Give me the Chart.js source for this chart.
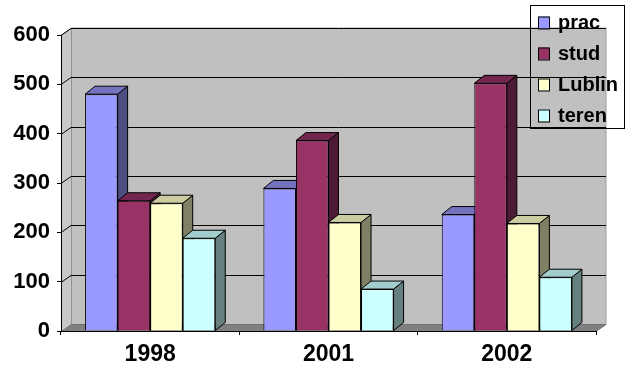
<!DOCTYPE html>
<html>
<head>
  <title>prac / stud / Lublin / teren</title>
  <script src="https://cdn.jsdelivr.net/npm/chart.js"></script>
  <style>
    body {
      margin: 0;
      background-color: #ffffff;
    }

    .chart-container {
      width: 633px;
      height: 377px;
    }
  </style>
</head>
<body>
  <div class="chart-container">
    <canvas id="barChart" width="633" height="377"></canvas>
  </div>

  <script>
    // data
    const years = ['1998', '2001', '2002'];
    const seriesNames = ['prac', 'stud', 'Lublin', 'teren'];
    const prac = [480, 289, 236];
    const stud = [264, 386, 502];
    const lublin = [259, 220, 218];
    const teren = [188, 85, 109];
    const yTicks = [0, 100, 200, 300, 400, 500, 600];

    // colours: front, top, side
    const fronts = ['#9999ff', '#993366', '#ffffcc', '#ccffff'];
    const tops = ['#7373c0', '#73264d', '#cccca3', '#a3cccc'];
    const sides = ['#4d4d80', '#4d1a33', '#808066', '#668080'];

    const WALL = { dx: 10, dy: -7 };  // depth of the walls
    const BAR = { dx: 10, dy: -8 };   // depth of each column

    function poly(ctx, pts, fill, stroke) {
      ctx.beginPath();
      ctx.moveTo(pts[0][0], pts[0][1]);
      for (let i = 1; i < pts.length; i++) ctx.lineTo(pts[i][0], pts[i][1]);
      ctx.closePath();
      if (fill) { ctx.fillStyle = fill; ctx.fill(); }
      if (stroke) { ctx.strokeStyle = stroke; ctx.lineWidth = 1; ctx.stroke(); }
    }

    // back wall, side wall and floor
    const wallsPlugin = {
      id: 'walls',
      beforeDraw(chart) {
        const ctx = chart.ctx;
        const a = chart.chartArea;
        const L = a.left + 0.5, R = a.right, T = a.top, B = a.bottom + 0.5;
        ctx.save();
        poly(ctx, [[L + WALL.dx, T + WALL.dy], [R + WALL.dx, T + WALL.dy],
                   [R + WALL.dx, B + WALL.dy], [L + WALL.dx, B + WALL.dy]], '#c0c0c0', '#a0a0a0');
        poly(ctx, [[L, T], [L + WALL.dx, T + WALL.dy], [L + WALL.dx, B + WALL.dy], [L, B]], '#c8c8c8', '#909090');
        poly(ctx, [[L, B], [L + WALL.dx, B + WALL.dy], [R + WALL.dx, B + WALL.dy], [R, B]], '#808080', '#707070');
        ctx.restore();
      },
      beforeDatasetsDraw(chart) {
        const ctx = chart.ctx;
        const a = chart.chartArea;
        const y = chart.scales.y;
        ctx.save();
        ctx.strokeStyle = '#000';
        ctx.lineWidth = 1;
        yTicks.forEach(v => {
          if (v === 0) return;
          const py = Math.round(y.getPixelForValue(v)) + 0.5;
          ctx.beginPath();
          ctx.moveTo(a.left, py);
          ctx.lineTo(a.left + WALL.dx, py + WALL.dy);
          ctx.lineTo(a.right + WALL.dx, py + WALL.dy);
          ctx.stroke();
        });
        // top and right faces of the columns, left to right
        chart.data.datasets.forEach((ds, i) => {
          chart.getDatasetMeta(i).data.forEach(bar => {
            const p = bar.getProps(['x', 'y', 'base', 'width'], true);
            const l = p.x - p.width / 2, r = p.x + p.width / 2;
            poly(ctx, [[r, p.y], [r + BAR.dx, p.y + BAR.dy], [r + BAR.dx, p.base + BAR.dy], [r, p.base]], sides[i], '#000');
            poly(ctx, [[l, p.y], [l + BAR.dx, p.y + BAR.dy], [r + BAR.dx, p.y + BAR.dy], [r, p.y]], tops[i], '#000');
          });
        });
        ctx.restore();
      },
      afterDraw(chart) {
        // legend box drawn over the plot, no fill
        const ctx = chart.ctx;
        ctx.save();
        ctx.strokeStyle = '#000';
        ctx.lineWidth = 1;
        ctx.strokeRect(530.5, 5.5, 94, 123);
        ctx.font = 'bold 20px "Liberation Sans", Arial, sans-serif';
        ctx.textBaseline = 'middle';
        ctx.fillStyle = '#000';
        chart.data.datasets.forEach((ds, i) => {
          const cy = 22.5 + i * 31;
          ctx.fillStyle = ds.backgroundColor;
          ctx.fillRect(538, cy - 6, 11, 12);
          ctx.strokeRect(538.5, cy - 5.5, 11, 12);
          ctx.fillStyle = '#000';
          ctx.fillText(ds.label, 558, cy + 1);
        });
        ctx.restore();
      }
    };

    const allSeries = [prac, stud, lublin, teren];

    const chart = new Chart(document.getElementById('barChart').getContext('2d'), {
      type: 'bar',
      data: {
        labels: years,
        datasets: seriesNames.map((name, i) => ({
          label: name,
          data: allSeries[i],
          backgroundColor: fronts[i],
          borderColor: '#000',
          borderWidth: 1,
          categoryPercentage: 0.73,
          barPercentage: 1
        }))
      },
      options: {
        responsive: false,
        animation: false,
        layout: { padding: { top: 35, right: 37, left: 0, bottom: 0 } },
        plugins: {
          legend: { display: false },
          tooltip: { enabled: false }
        },
        scales: {
          x: {
            grid: { drawOnChartArea: false, tickLength: 4, color: '#000' },
            border: { color: '#000' },
            ticks: {
              color: '#000',
              padding: 6,
              font: { family: '"Liberation Sans", Arial, sans-serif', weight: 'bold', size: 23 }
            },
            afterFit(scale) { scale.height = 46; }
          },
          y: {
            min: 0,
            max: 600,
            afterBuildTicks(scale) { scale.ticks = yTicks.map(v => ({ value: v })); },
            grid: { drawOnChartArea: false, tickLength: 4, color: '#000' },
            border: { color: '#000' },
            ticks: {
              color: '#000',
              padding: 7,
              font: { family: '"Liberation Sans", Arial, sans-serif', weight: 'bold', size: 22 }
            },
            afterFit(scale) { scale.width = 61; }
          }
        }
      },
      plugins: [wallsPlugin]
    });
  </script>
</body>
</html>
